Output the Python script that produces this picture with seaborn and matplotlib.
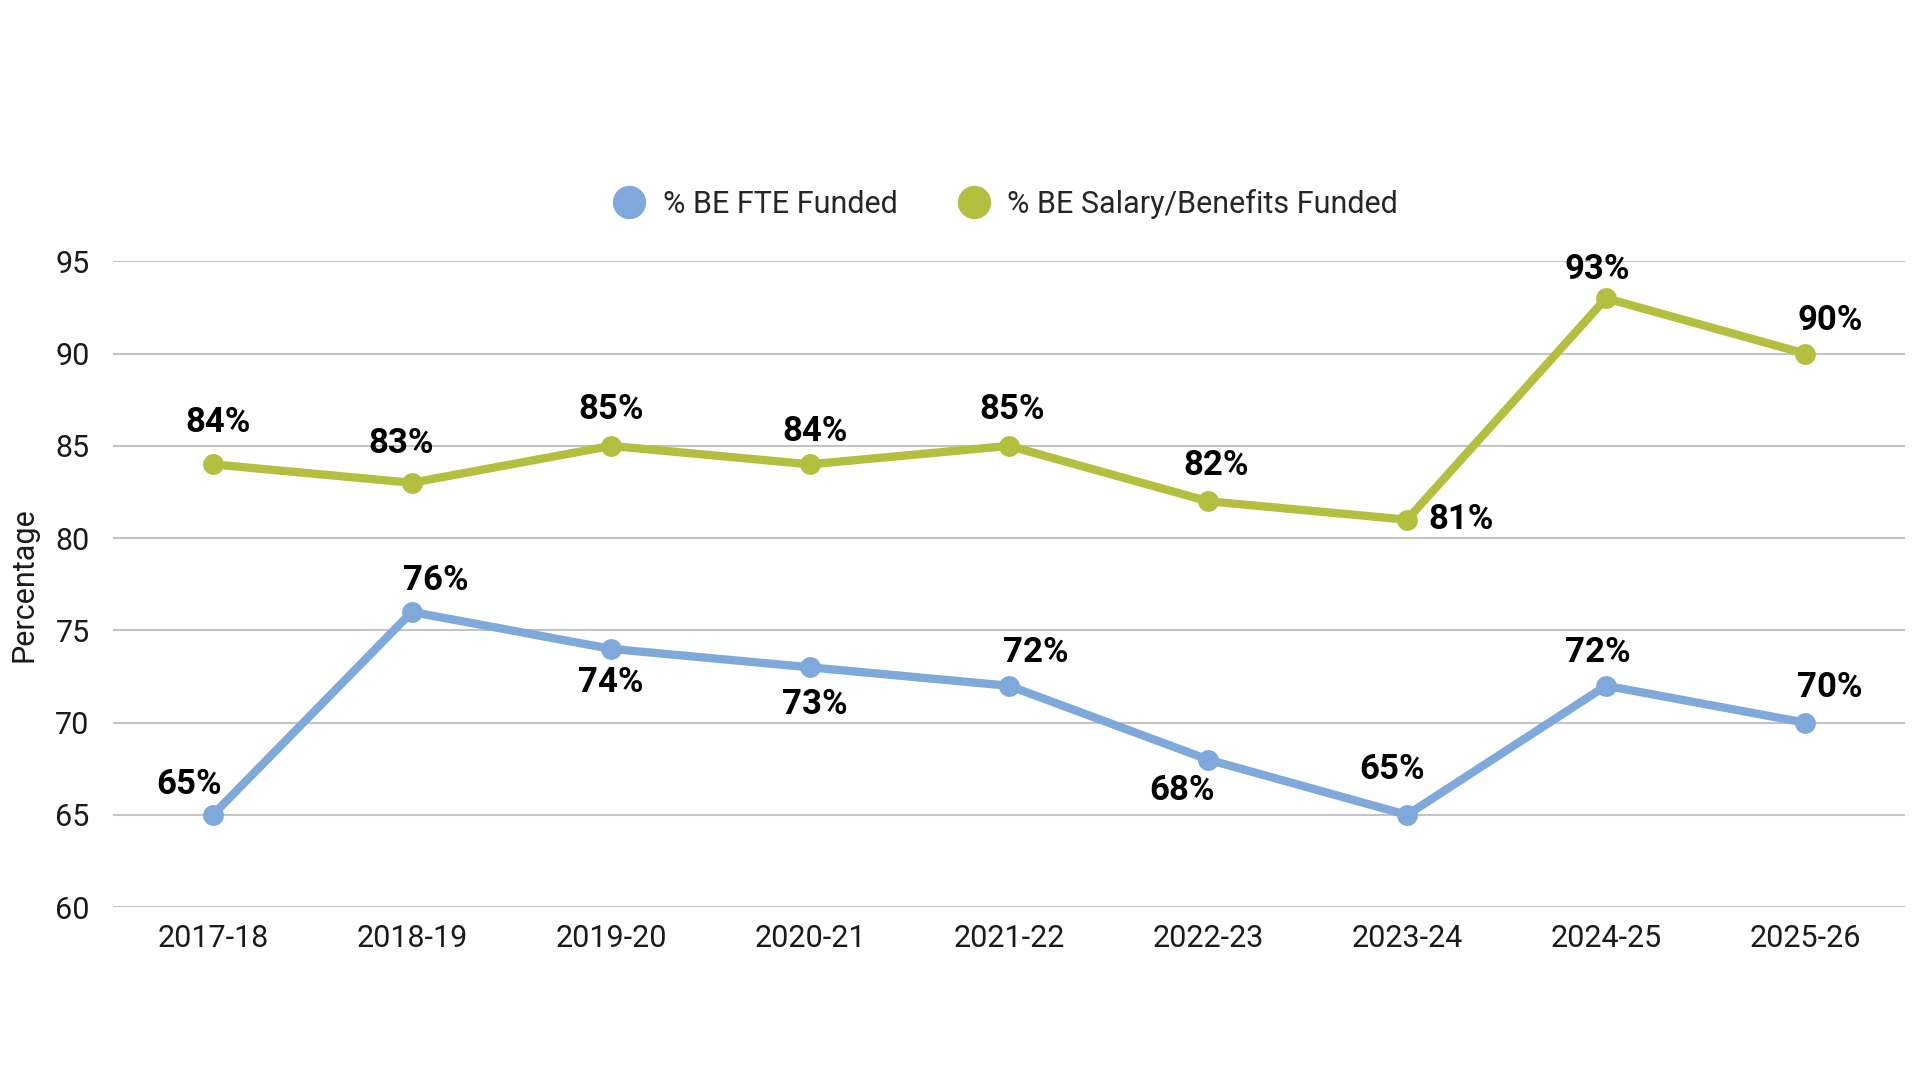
import matplotlib
matplotlib.use("Agg")
import matplotlib.pyplot as plt
import pandas as pd
import seaborn as sns
from matplotlib.lines import Line2D

years = ['2017-18', '2018-19', '2019-20', '2020-21', '2021-22',
         '2022-23', '2023-24', '2024-25', '2025-26']
fte_funded = [65, 76, 74, 73, 72, 68, 65, 72, 70]
salary_funded = [84, 83, 85, 84, 85, 82, 81, 93, 90]
series_names = ['% BE FTE Funded', '% BE Salary/Benefits Funded']
colors = ['#7FA8DB', '#B4BF3F']

# label offsets (points) for each data label
fte_offsets = [(-17, 22), (17, 23), (0, -24), (3.5, -27), (19, 24),
               (-18.5, -22), (-10.5, 32.5), (-6, 24), (18, 25.5)]
sal_offsets = [(3.5, 30), (-8, 28), (0, 26.5), (3.5, 24), (2, 26.5),
               (6, 25.5), (39, 0), (-6, 21), (18, 24)]

sns.set_theme(style='white')
plt.rcParams['font.family'] = ['Roboto', 'DejaVu Sans']

df = pd.DataFrame({'year': years * 2,
                   'value': fte_funded + salary_funded,
                   'series': [series_names[0]] * len(years) + [series_names[1]] * len(years)})
df['x'] = list(range(len(years))) * 2

fig = plt.figure(figsize=(19.2, 10.8), dpi=100)
ax = fig.add_axes([0.059, 0.16, 0.933, 0.598])

sns.lineplot(data=df, x='x', y='value', hue='series', palette=colors,
             marker='o', markersize=15, markeredgewidth=0, linewidth=6,
             legend=False, ax=ax)

for vals, offs, in [(fte_funded, fte_offsets), (salary_funded, sal_offsets)]:
    for i, (v, o) in enumerate(zip(vals, offs)):
        ax.annotate(f'{v}%', (i, v), xytext=o, textcoords='offset points',
                    ha='center', va='center', fontsize=25, fontweight='bold',
                    color='black')

ax.set_ylim(60, 95)
ax.set_yticks(range(60, 96, 5))
ax.set_xlim(-0.5, len(years) - 0.5)
ax.set_xticks(range(len(years)))
ax.set_xticklabels(years)
ax.tick_params(axis='both', labelsize=22, length=0, colors='#1a1a1a')
ax.tick_params(axis='x', pad=12)
ax.tick_params(axis='y', pad=17)
ax.yaxis.grid(True, color='#C4C4C4', linewidth=1.5)
ax.set_axisbelow(True)
for s in ax.spines.values():
    s.set_visible(False)
ax.set_xlabel('')
ax.set_ylabel('Percentage', fontsize=22, color='#1a1a1a', labelpad=12)

handles = [Line2D([], [], linestyle='none', marker='o', markersize=24,
                  markerfacecolor=c, markeredgewidth=0) for c in colors]
fig.legend(handles, series_names, loc='center', bbox_to_anchor=(0.52, 0.811),
           ncol=2, frameon=False, fontsize=22, handletextpad=0.1,
           columnspacing=1.5)

fig.savefig('out.png', dpi=100, facecolor='white')
